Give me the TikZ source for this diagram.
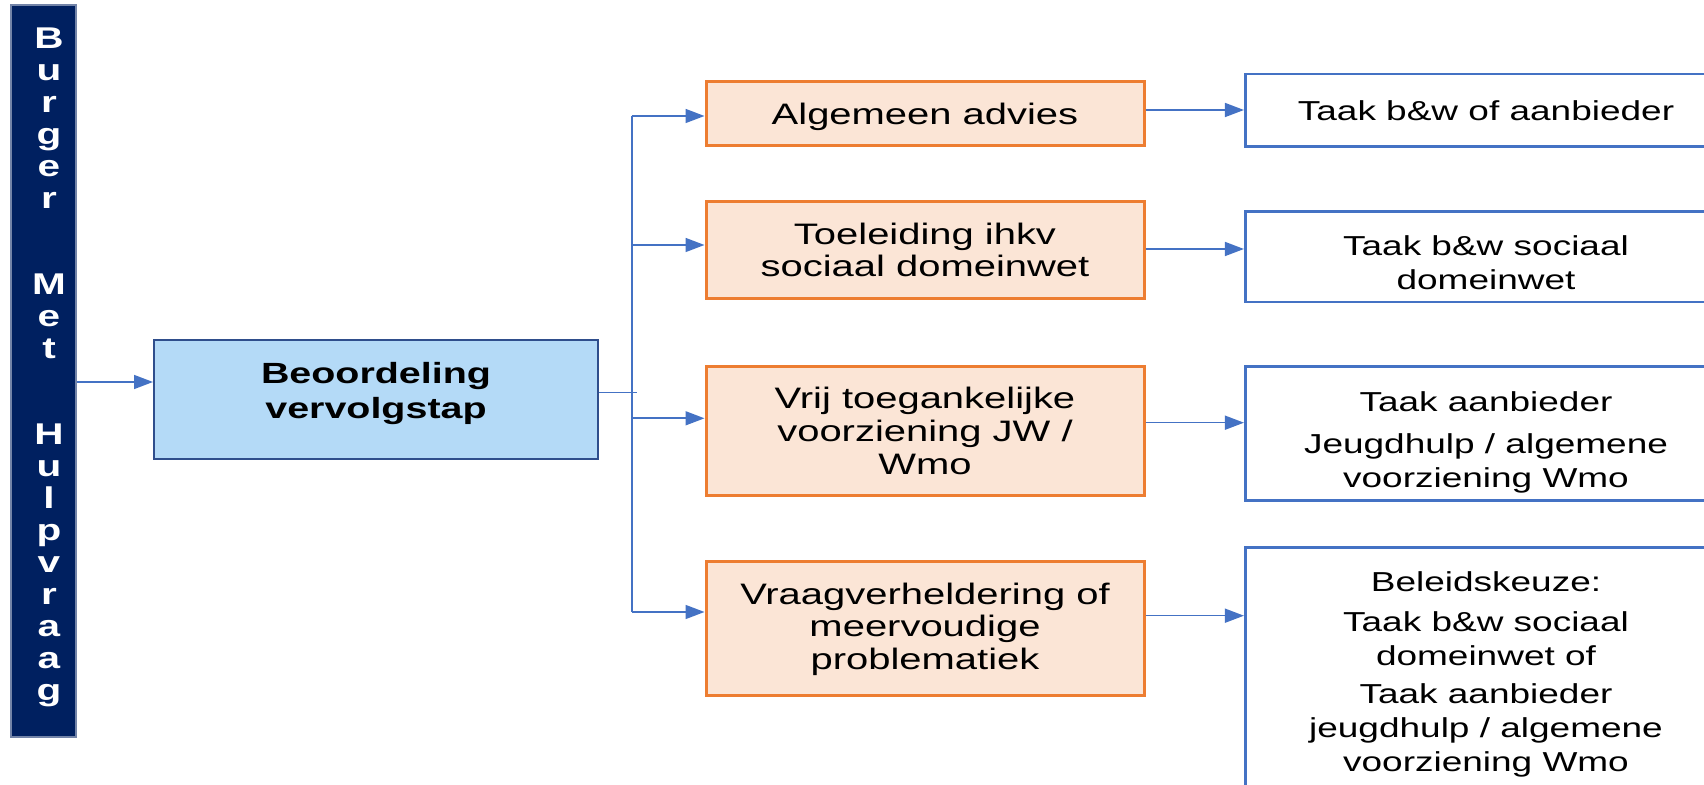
\documentclass[tikz,border=0pt]{standalone}
\usepackage{fontspec}
\setmainfont{Liberation Sans}[FakeStretch=1.35]
\usetikzlibrary{arrows.meta}

\definecolor{navy}{HTML}{002060}
\definecolor{lightblue}{HTML}{B4DAF7}
\definecolor{darkblue}{HTML}{2F4E8C}
\definecolor{peach}{HTML}{FBE5D6}
\definecolor{orangeline}{HTML}{ED7D31}
\definecolor{linkblue}{HTML}{4472C4}
% raise the first line so the text sits lower in its box
\newcommand{\strutto}[1]{\rule{0pt}{#1}}

\begin{document}
\begin{tikzpicture}[x=0.5pt,y=-0.5pt,
    banner/.style={fill=navy,draw=navy!55!white,line width=0.6pt,inner sep=0,
      minimum width=32.5pt,minimum height=366pt},
    bannertext/.style={text=white,inner sep=0,align=center,
      font=\bfseries\fontsize{15pt}{16pt}\selectfont},
    judge/.style={fill=lightblue,draw=darkblue,line width=1pt,inner sep=0,
      minimum width=222pt,minimum height=59.5pt},
    judgetext/.style={align=center,inner sep=0,
      font=\bfseries\fontsize{14.6pt}{17.25pt}\selectfont},
    route/.style={fill=peach,draw=orangeline,line width=1.5pt,align=center,
      minimum width=219pt,font=\fontsize{14.8pt}{16.3pt}\selectfont},
    task/.style={fill=white,draw=linkblue,line width=1.3pt,align=center,
      minimum width=240.75pt,font=\fontsize{13.7pt}{17pt}\selectfont},
    line/.style={draw=linkblue,line width=0.8pt},
    link/.style={line,-{Triangle[length=9.5pt,width=7pt]}}]
    \useasboundingbox (0,0) rectangle (1704,785);
    \clip (0,0) rectangle (1704,785);
    %% banner
    \node[banner] (burger) at (43.5,371) {};
    \node[bannertext,anchor=north] (burgertxt) at (49,27.5)
      {B\\u\\r\\g\\e\\r\\[27pt]M\\e\\t\\[27pt]H\\u\\l\\p\\v\\r\\a\\a\\g};
    %% assessment
    \node[judge] (beoordeling) at (376,399.5) {};
    \node[judgetext] (beoordelingtxt) at ([yshift=3.1pt]beoordeling.center)
      {Beoordeling\\vervolgstap};
    %% routes
    \node[route,minimum height=32pt] (alg) at (925,113.5) {\strutto{13.8pt}Algemeen advies};
    \node[route,minimum height=48.25pt] (toe) at (925,250) {Toeleiding ihkv\\sociaal domeinwet};
    \node[route,minimum height=64.75pt] (vrij) at (925,431) {Vrij toegankelijke\\voorziening JW /\\Wmo};
    \node[route,minimum height=67pt] (vraag) at (925,629) {Vraagverheldering of\\meervoudige\\problematiek};
    %% tasks
    \node[task,minimum height=36.25pt] (taak1) at (1486,110.25) {Taak b\&w of aanbieder};
    \node[task,minimum height=45.15pt] (taak2) at (1486,256.85)
      {\strutto{16.1pt}Taak b\&w sociaal\\domeinwet};
    \node[task,minimum height=67pt] (taak3) at (1486,433.7)
      {\strutto{18.7pt}Taak aanbieder\\[4pt]Jeugdhulp / algemene\\voorziening Wmo};
    \node[task,minimum height=123.7pt] (taak4) at (1486,671)
      {\strutto{13.3pt}Beleidskeuze:\\[3pt]Taak b\&w sociaal\\domeinwet of\\[2pt]Taak aanbieder\\jeugdhulp / algemene\\voorziening Wmo};
    %% connectors
    \coordinate (start) at ([yshift=-5.5pt]burger.east);
    \draw[link] (start) -- (start -| beoordeling.west);
    \coordinate (split) at ([yshift=3.4pt]beoordeling.east);
    \coordinate (trunk) at (631.7,399.5);
    \draw[line] (split) -- ([xshift=2.5pt]split -| trunk);
    \coordinate (in1) at ([yshift=-1.25pt]alg.west);
    \coordinate (in2) at ([yshift=2.5pt]toe.west);
    \coordinate (in3) at ([yshift=6.35pt]vrij.west);
    \coordinate (in4) at ([yshift=8.5pt]vraag.west);
    \draw[line] (in1 -| trunk) -- (in4 -| trunk);
    \foreach \i in {1,...,4}
      \draw[link] (in\i -| trunk) -- (in\i);
    \coordinate (out1) at ([yshift=1.75pt]alg.east);
    \coordinate (out2) at ([yshift=0.5pt]toe.east);
    \coordinate (out3) at ([yshift=4.15pt]vrij.east);
    \coordinate (out4) at ([yshift=6.65pt]vraag.east);
    \foreach \i in {1,...,4}
      \draw[link] (out\i) -- (out\i -| taak\i.west);
\end{tikzpicture}
\end{document}
